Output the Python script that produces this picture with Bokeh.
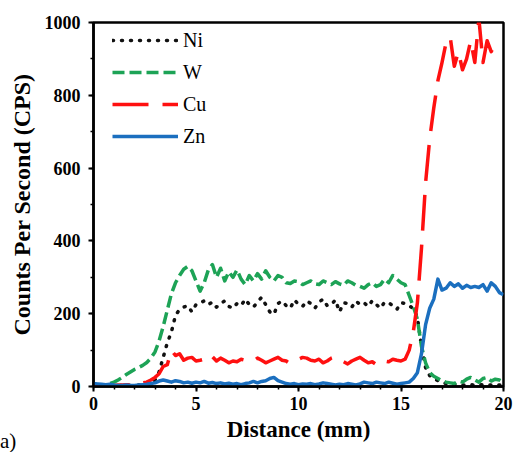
import math
from bokeh.plotting import figure
from bokeh.models import (Legend, LegendItem, SingleIntervalTicker, Range1d, Div)
from bokeh.layouts import column
from bokeh.embed import file_html
from bokeh.resources import INLINE

NAN = float("nan")

distance = [0.0, 0.2, 0.4, 0.6, 0.8, 1.0, 1.2, 1.4, 1.6, 1.8,
            2.0, 2.2, 2.4, 2.6, 2.8, 3.0, 3.2, 3.4, 3.6, 3.8,
            4.0, 4.2, 4.4, 4.6, 4.8, 5.0, 5.2, 5.4, 5.6, 5.8,
            6.0, 6.2, 6.4, 6.6, 6.8, 7.0, 7.2, 7.4, 7.6, 7.8,
            8.0, 8.2, 8.4, 8.6, 8.8, 9.0, 9.2, 9.4, 9.6, 9.8,
            10.0, 10.2, 10.4, 10.6, 10.8, 11.0, 11.2, 11.4, 11.6, 11.8,
            12.0, 12.2, 12.4, 12.6, 12.8, 13.0, 13.2, 13.4, 13.6, 13.8,
            14.0, 14.2, 14.4, 14.6, 14.8, 15.0, 15.2, 15.4, 15.6, 15.8,
            16.0, 16.2, 16.4, 16.6, 16.8, 17.0, 17.2, 17.4, 17.6, 17.8,
            18.0, 18.2, 18.4, 18.6, 18.8, 19.0, 19.2, 19.4, 19.6, 19.8,
            20.0]

ni = [3, 3, 2, 3, 3, 2, 3, 3, 4, 3,
      3, 4, 3, 4, 6, 18, 40, 80, 120, 150,
      195, 212, 218, 222, 205, 225, 230, 235, 225, 232,
      218, 228, 235, 220, 215, 228, 222, 240, 225, 218,
      232, 245, 225, 205, 198, 228, 235, 222, 215, 238,
      225, 220, 235, 228, 215, 232, 240, 222, 225, 238,
      205, 230, 228, 218, 235, 225, 230, 220, 236, 225,
      215, 232, 230, 222, 212, 230, 228, 222, 214, 190,
      110, 52, 30, 22, 16, 12, 8, 6, 5, 5,
      4, 4, 5, 4, 4, 5, 4, 4, 5, 4,
      4]

w = [5, 5, 4, 5, 8, 12, 18, 25, 33, 40,
     47, 52, 58, 66, 78, 95, 125, 165, 210, 255,
     285, 305, 322, 330, 318, 290, 262, 285, 320, 335,
     300, 325, 290, 315, 300, 320, 295, 280, 305, 290,
     310, 295, 318, 300, 290, 305, 300, 285, 283, 290,
     288, 280, 285, 290, 282, 280, 290, 285, 280, 288,
     282, 278, 290, 285, 278, 275, 270, 280, 285, 275,
     280, 295, 285, 305, 295, 285, 280, 250, 220, 185,
     110, 65, 38, 28, 22, 15, 12, 10, 8, 15,
     12, 20, 25, 18, 12, 22, 25, 15, 20, 18,
     12]

cu = [3, 3, 3, 3, 3, 3, 4, 4, 5, 5,
      6, 8, 10, 12, 18, 25, 35, 55, 60, 100,
      85, 90, 72, 78, 80, 70, 72, 75, 68, 82,
      70, 78, 72, 65, 70, 68, 75, 72, 66, 70,
      78, 72, 65, 70, 75, 80, 72, 70, 62, 68,
      75, 80, 78, 72, 70, 75, 65, 70, 78, 82,
      70, 68, 62, 70, 75, 80, 72, 65, 68, 60,
      72, 70, 68, 75, 72, 70, 75, 100, 150, 230,
      380, 560, 680, 766, 840, 890, 945, 960, 880, 920,
      870, 900, 950, 890, 1010, 890, 950, 920, 940, NAN,
      NAN]

zn = [8, 7, 6, 5, 6, 4, 3, 3, 4, 3,
      3, 4, 5, 6, 8, 10, 15, 18, 15, 12,
      16, 14, 10, 12, 9, 12, 10, 14, 9, 11,
      8, 10, 7, 9, 6, 8, 5, 8, 10, 14,
      10, 14, 16, 22, 25, 16, 12, 8, 6, 8,
      5, 7, 6, 8, 5, 7, 10, 8, 6, 4,
      6, 5, 8, 6, 4, 7, 12, 10, 8, 12,
      10, 8, 12, 9, 6, 8, 10, 12, 22, 38,
      90, 170, 215, 240, 295, 265, 270, 285, 275, 282,
      270, 278, 272, 275, 272, 280, 262, 285, 275, 258,
      252]

series_names = ["Ni", "W", "Cu", "Zn"]
series_values = [ni, w, cu, zn]
series_colors = ["#111111", "#1DA356", "#FF1010", "#1B6FBF"]
series_dashes = ["1 8", "12 5", "36 14", "solid"]

FONT = "Liberation Serif"

p = figure(width=513, height=450, output_backend="svg", toolbar_location=None,
           x_range=Range1d(0, 20), y_range=Range1d(0, 1000),
           min_border_left=93, min_border_right=10, min_border_top=22,
           min_border_bottom=64)
p.frame_width = 410
p.frame_height = 364

p.xgrid.visible = False
p.ygrid.visible = False
p.outline_line_color = "black"
p.outline_line_width = 2.5
p.outline_line_alpha = 1
p.background_fill_color = "white"
p.border_fill_color = "white"

renderers = []
for name, vals, col, dash in zip(series_names, series_values, series_colors, series_dashes):
    r = p.line(distance, vals, line_color=col, line_width=3.5, line_dash=dash,
               line_cap="round" if name == "Ni" else "butt", line_join="round")
    renderers.append((name, r))

legend = Legend(items=[LegendItem(label=n, renderers=[r]) for n, r in renderers],
                location=(19, 238), margin=0, padding=0, spacing=8,
                glyph_width=66, glyph_height=24, label_height=24,
                label_standoff=5, background_fill_alpha=0, border_line_alpha=0,
                label_text_font=FONT, label_text_font_size="20px",
                label_text_color="black")
p.add_layout(legend, "center")

p.xaxis.ticker = SingleIntervalTicker(interval=5, num_minor_ticks=5)
p.yaxis.ticker = SingleIntervalTicker(interval=200, num_minor_ticks=2)

for ax in (p.xaxis[0], p.yaxis[0]):
    ax.axis_line_width = 2.5
    ax.axis_line_color = "black"
    ax.major_tick_line_width = 2
    ax.minor_tick_line_width = 1.5
    ax.major_tick_out = 5
    ax.major_tick_in = 0
    ax.minor_tick_out = 3
    ax.minor_tick_in = 0
    ax.major_label_text_font = FONT
    ax.major_label_text_font_style = "bold"
    ax.major_label_text_font_size = "18px"
    ax.major_label_text_color = "black"
    ax.axis_label_text_font = FONT
    ax.axis_label_text_font_style = "bold"
    ax.axis_label_text_color = "black"

p.xaxis.axis_label = "Distance (mm)"
p.xaxis.axis_label_text_font_size = "23px"
p.xaxis.major_label_standoff = 5
p.xaxis.axis_label_standoff = 4

p.yaxis.axis_label = "Counts Per Second (CPS)"
p.yaxis.axis_label_text_font_size = "24px"
p.yaxis.major_label_standoff = 8
p.yaxis.axis_label_standoff = 7

tag = Div(text="a)", margin=(-19, 0, 0, 0),
          styles={"font-family": "Liberation Serif, Times New Roman, serif",
                  "font-size": "21px", "line-height": "20px", "color": "black"})

open("out.html", "w").write(file_html(column(p, tag), INLINE))
